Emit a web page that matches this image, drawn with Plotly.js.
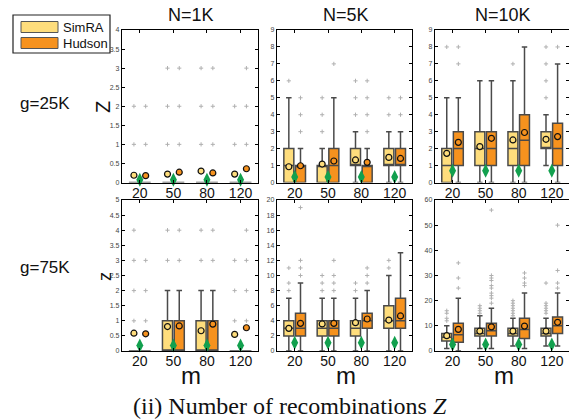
<!DOCTYPE html>
<html><head><meta charset="utf-8">
<script src="https://cdn.plot.ly/plotly-3.0.1.min.js"></script>
<style>html,body{margin:0;padding:0;background:#fff}#plot{width:569px;height:419px}</style>
</head><body><div id="plot"></div>
<script>
// ---------- DATA ----------
const mLabels = ['20', '50', '80', '120'];
const colTitles = ['N=1K', 'N=5K', 'N=10K'];
const rowTitles = ['g=25K', 'g=75K'];
const seriesNames = ['SimRA', 'Hudson'];

// Panel A: g=25K, N=1K
const A_sim_q1 = [0, 0, 0, 0], A_sim_med = [0, 0, 0, 0], A_sim_q3 = [0, 0, 0, 0];
const A_sim_lo = [0, 0, 0, 0], A_sim_hi = [0, 0, 0, 0];
const A_sim_mean = [0.19, 0.22, 0.30, 0.22];
const A_sim_out = [[1, 2], [1, 2, 3], [1, 2, 3], [1, 2]];
const A_hud_q1 = [0, 0, 0, 0], A_hud_med = [0, 0, 0, 0], A_hud_q3 = [0, 0, 0, 0];
const A_hud_lo = [0, 0, 0, 0], A_hud_hi = [0, 0, 0, 0];
const A_hud_mean = [0.18, 0.27, 0.25, 0.36];
const A_hud_out = [[1, 2], [1, 2, 3], [1, 2, 3], [1, 2, 3]];
const A_truth = [0.07, 0.07, 0.07, 0.07];

// Panel B: g=25K, N=5K
const B_sim_q1 = [0, 0, 1, 1], B_sim_med = [1, 1, 1, 1], B_sim_q3 = [2, 1, 2, 2];
const B_sim_lo = [0, 0, 0, 0], B_sim_hi = [5, 2, 3, 3];
const B_sim_mean = [0.93, 1.09, 1.33, 1.48];
const B_sim_out = [[6], [3, 4, 5], [4, 5, 6], [4, 5]];
const B_hud_q1 = [0, 0, 0, 1], B_hud_med = [1, 1, 1, 1], B_hud_q3 = [1, 2, 1, 2];
const B_hud_lo = [0, 0, 0, 0], B_hud_hi = [2, 5, 2, 3];
const B_hud_mean = [0.99, 1.27, 1.19, 1.42];
const B_hud_out = [[3, 4, 5], [7], [3, 4, 5, 6], [4, 5]];
const B_truth = [0.33, 0.33, 0.33, 0.33];

// Panel C: g=25K, N=10K
const C_sim_q1 = [0, 1, 1, 2], C_sim_med = [1, 2, 2, 2], C_sim_q3 = [2, 3, 3, 3];
const C_sim_lo = [0, 0, 0, 1], C_sim_hi = [5, 6, 6, 4];
const C_sim_mean = [1.72, 2.12, 2.51, 2.55];
const C_sim_out = [[8], [], [7], [5, 6, 7, 8]];
const C_hud_q1 = [1, 1, 1, 1], C_hud_med = [2, 2, 2.5, 2], C_hud_q3 = [3, 3, 4, 3.5];
const C_hud_lo = [0, 0, 0, 0], C_hud_hi = [5, 6, 8, 7];
const C_hud_mean = [2.37, 2.61, 2.95, 2.71];
const C_hud_out = [[7, 8], [], [], [8]];
const C_truth = [0.7, 0.7, 0.7, 0.7];

// Panel D: g=75K, N=1K
const D_sim_q1 = [0, 0, 0, 0], D_sim_med = [0, 0, 0, 0], D_sim_q3 = [0, 1, 1, 0];
const D_sim_lo = [0, 0, 0, 0], D_sim_hi = [0, 2, 2, 0];
const D_sim_mean = [0.59, 0.81, 0.67, 0.55];
const D_sim_out = [[1, 2, 3, 4], [3, 4], [3, 4], [1, 2, 3]];
const D_hud_q1 = [0, 0, 0, 0], D_hud_med = [0, 0, 0, 0], D_hud_q3 = [0, 1, 1, 0];
const D_hud_lo = [0, 0, 0, 0], D_hud_hi = [0, 2, 2, 0];
const D_hud_mean = [0.57, 0.83, 0.89, 0.77];
const D_hud_out = [[1, 2, 3], [3, 4], [3, 4], [1, 2, 3, 4]];
const D_truth = [0.18, 0.18, 0.18, 0.18];

// Panel E: g=75K, N=5K
const E_sim_q1 = [2, 2, 2, 3], E_sim_med = [3, 3, 3, 4], E_sim_q3 = [4, 4, 4, 6];
const E_sim_lo = [0, 0, 0, 0], E_sim_hi = [7, 7, 7, 10];
const E_sim_mean = [3.0, 3.58, 3.75, 4.1];
const E_sim_out = [[8, 9, 11], [8, 9, 10], [8, 9], [11, 12]];
const E_hud_q1 = [2, 2, 3, 3], E_hud_med = [3, 3, 4, 4], E_hud_q3 = [5, 4, 5, 7];
const E_hud_lo = [0, 0, 0, 0], E_hud_hi = [9, 7, 8, 13];
const E_hud_mean = [3.66, 3.66, 4.24, 4.64];
const E_hud_out = [[10, 11, 12, 19], [8, 9, 10, 12], [9, 10, 11], []];
const E_truth = [1.1, 1.1, 1.1, 1.1];

// Panel F: g=75K, N=10K
const F_sim_q1 = [4, 6, 6, 6], F_sim_med = [5.5, 7, 7, 7], F_sim_q3 = [7, 9, 9, 9];
const F_sim_lo = [1, 1, 2, 2], F_sim_hi = [10, 14, 13, 13];
const F_sim_mean = [6.1, 7.9, 7.9, 7.9];
const F_sim_out = [[12, 13, 15, 16], [15, 16, 17, 18], [14, 15, 16, 17, 18, 19, 20], [15, 16, 17, 18, 19, 27]];
const F_hud_q1 = [3.5, 6, 5, 7], F_hud_med = [6.5, 8, 8.5, 10], F_hud_q3 = [11, 11, 13, 13.5];
const F_hud_lo = [0, 1, 1, 2], F_hud_hi = [21, 17, 23, 23];
const F_hud_mean = [8.6, 9.6, 9.9, 11.4];
const F_hud_out = [[25, 29, 35], [19, 21, 22, 23, 25, 26, 28, 29, 30, 56], [26, 27, 29, 31], [25, 27, 32, 50]];
const F_truth = [2.6, 2.6, 2.6, 2.6];

const yMax = [4, 9, 9, 5, 20, 60];
const yStep = [0.5, 1, 1, 0.5, 2, 10];

// ---------- STYLE / LAYOUT ----------
const W = 569, H = 419;
const simColor = '#FEDD7C', hudColor = '#F6921E', greenColor = '#12A04E';
const OFF = 0.175, BW = 0.3;
const xDom = [[122, 258], [277, 412], [435, 571]];
const yDom = [[30, 182.5], [200, 351]];

const panels = [
  {sim: [A_sim_q1, A_sim_med, A_sim_q3, A_sim_lo, A_sim_hi, A_sim_mean, A_sim_out], hud: [A_hud_q1, A_hud_med, A_hud_q3, A_hud_lo, A_hud_hi, A_hud_mean, A_hud_out], truth: A_truth},
  {sim: [B_sim_q1, B_sim_med, B_sim_q3, B_sim_lo, B_sim_hi, B_sim_mean, B_sim_out], hud: [B_hud_q1, B_hud_med, B_hud_q3, B_hud_lo, B_hud_hi, B_hud_mean, B_hud_out], truth: B_truth},
  {sim: [C_sim_q1, C_sim_med, C_sim_q3, C_sim_lo, C_sim_hi, C_sim_mean, C_sim_out], hud: [C_hud_q1, C_hud_med, C_hud_q3, C_hud_lo, C_hud_hi, C_hud_mean, C_hud_out], truth: C_truth},
  {sim: [D_sim_q1, D_sim_med, D_sim_q3, D_sim_lo, D_sim_hi, D_sim_mean, D_sim_out], hud: [D_hud_q1, D_hud_med, D_hud_q3, D_hud_lo, D_hud_hi, D_hud_mean, D_hud_out], truth: D_truth},
  {sim: [E_sim_q1, E_sim_med, E_sim_q3, E_sim_lo, E_sim_hi, E_sim_mean, E_sim_out], hud: [E_hud_q1, E_hud_med, E_hud_q3, E_hud_lo, E_hud_hi, E_hud_mean, E_hud_out], truth: E_truth},
  {sim: [F_sim_q1, F_sim_med, F_sim_q3, F_sim_lo, F_sim_hi, F_sim_mean, F_sim_out], hud: [F_hud_q1, F_hud_med, F_hud_q3, F_hud_lo, F_hud_hi, F_hud_mean, F_hud_out], truth: F_truth}
];

const idx = mLabels.map((_, i) => i);
const traces = [];
const layout = {
  width: W, height: H, margin: {l: 0, r: 0, t: 0, b: 0},
  paper_bgcolor: '#fff', plot_bgcolor: '#fff', showlegend: false, hovermode: false,
  font: {family: 'Liberation Sans, Arial, sans-serif', color: '#111'},
  annotations: [], shapes: []
};

panels.forEach((p, k) => {
  const r = Math.floor(k / 3), c = k % 3;
  const n = k === 0 ? '' : String(k + 1);
  const xa = 'x' + n, ya = 'y' + n;
  [['sim', -OFF, simColor], ['hud', OFF, hudColor]].forEach(([key, off, col]) => {
    const s = p[key];
    const xs = idx.map(i => i + off);
    traces.push({
      type: 'box', orientation: 'v', x: xs, q1: s[0], median: s[1], q3: s[2],
      lowerfence: s[3], upperfence: s[4], width: BW, whiskerwidth: 0.55,
      boxpoints: false, fillcolor: col, line: {color: '#4a4a4a', width: 1.5},
      xaxis: xa, yaxis: ya, hoverinfo: 'skip'
    });
    const ox = [], oy = [];
    s[6].forEach((arr, i) => arr.forEach(v => { ox.push(i + off); oy.push(v); }));
    traces.push({
      type: 'scatter', mode: 'markers', x: ox, y: oy, xaxis: xa, yaxis: ya,
      marker: {symbol: 'cross-thin', size: 3, line: {color: '#b0b0b0', width: 1}}, hoverinfo: 'skip'
    });
    traces.push({
      type: 'scatter', mode: 'markers', x: xs, y: s[5], xaxis: xa, yaxis: ya, cliponaxis: false,
      marker: {symbol: 'circle', size: 6, color: col, line: {color: '#111', width: 1.2}}, hoverinfo: 'skip'
    });
  });
  traces.push({
    type: 'scatter', mode: 'markers', x: idx, y: p.truth, xaxis: xa, yaxis: ya, cliponaxis: false,
    marker: {symbol: 'diamond-tall', size: 10, color: greenColor, line: {width: 0}}, hoverinfo: 'skip'
  });
  layout['xaxis' + n] = {
    domain: [xDom[c][0] / W, Math.min(1, xDom[c][1] / W)], anchor: ya,
    range: [-0.53, 3.52], tickvals: idx, ticktext: mLabels,
    ticks: 'inside', ticklen: 3, tickcolor: '#000', showline: true, linecolor: '#000', linewidth: 1.2,
    mirror: 'ticks', showgrid: false, zeroline: false, ticklabelstandoff: -3,
    tickfont: {size: 14, color: '#111', family: 'Liberation Sans, Arial, sans-serif'}
  };
  layout['yaxis' + n] = {
    domain: [1 - yDom[r][1] / H, 1 - yDom[r][0] / H], anchor: xa,
    range: [0, yMax[k]], dtick: yStep[k], tick0: 0,
    ticks: 'inside', ticklen: 3, tickcolor: '#000', showline: true, linecolor: '#000', linewidth: 1.2,
    mirror: 'ticks', showgrid: false, zeroline: false,
    tickfont: {size: 7, color: '#444', family: 'Liberation Sans, Arial, sans-serif'}
  };
});

const ann = (x, y, text, size, extra) => Object.assign({
  xref: 'paper', yref: 'paper', x: x / W, y: 1 - y / H, text: text, showarrow: false,
  xanchor: 'center', yanchor: 'middle', font: {size: size, color: '#111', family: 'Liberation Sans, Arial, sans-serif'}
}, extra || {});

colTitles.forEach((t, c) => layout.annotations.push(ann((xDom[c][0] + Math.min(xDom[c][1], 569)) / 2 + 1, 15, t, 18)));
rowTitles.forEach((t, r) => layout.annotations.push(ann(45, r === 0 ? 103 : 267, t, 17)));
layout.annotations.push(ann(103, 107, 'Z', 20, {textangle: -90}));
layout.annotations.push(ann(105, 277, 'z', 18, {textangle: -90}));
[191, 346, 504].forEach(x => layout.annotations.push(ann(x, 375, 'm', 24)));
layout.annotations.push(ann(290, 406, '(ii) Number of recombinations <i>Z</i>', 24,
  {font: {size: 24, color: '#111', family: 'Liberation Serif, Times New Roman, serif'}}));

// legend box
const rect = (x0, y0, x1, y1, fill, lw, lc) => ({
  type: 'rect', xref: 'paper', yref: 'paper', x0: x0 / W, x1: x1 / W, y0: 1 - y1 / H, y1: 1 - y0 / H,
  fillcolor: fill, line: {color: lc, width: lw}
});
layout.shapes.push(rect(13, 15, 110, 53, '#fff', 1.2, '#222'));
layout.shapes.push(rect(21, 21.5, 58, 32.5, simColor, 1, '#555'));
layout.shapes.push(rect(21, 37.5, 58, 48.5, hudColor, 1, '#555'));
layout.annotations.push(ann(61, 27, seriesNames[0], 13, {xanchor: 'left'}));
layout.annotations.push(ann(61, 43, seriesNames[1], 13, {xanchor: 'left'}));

Plotly.newPlot('plot', traces, layout, {staticPlot: true, displayModeBar: false});
</script></body></html>
